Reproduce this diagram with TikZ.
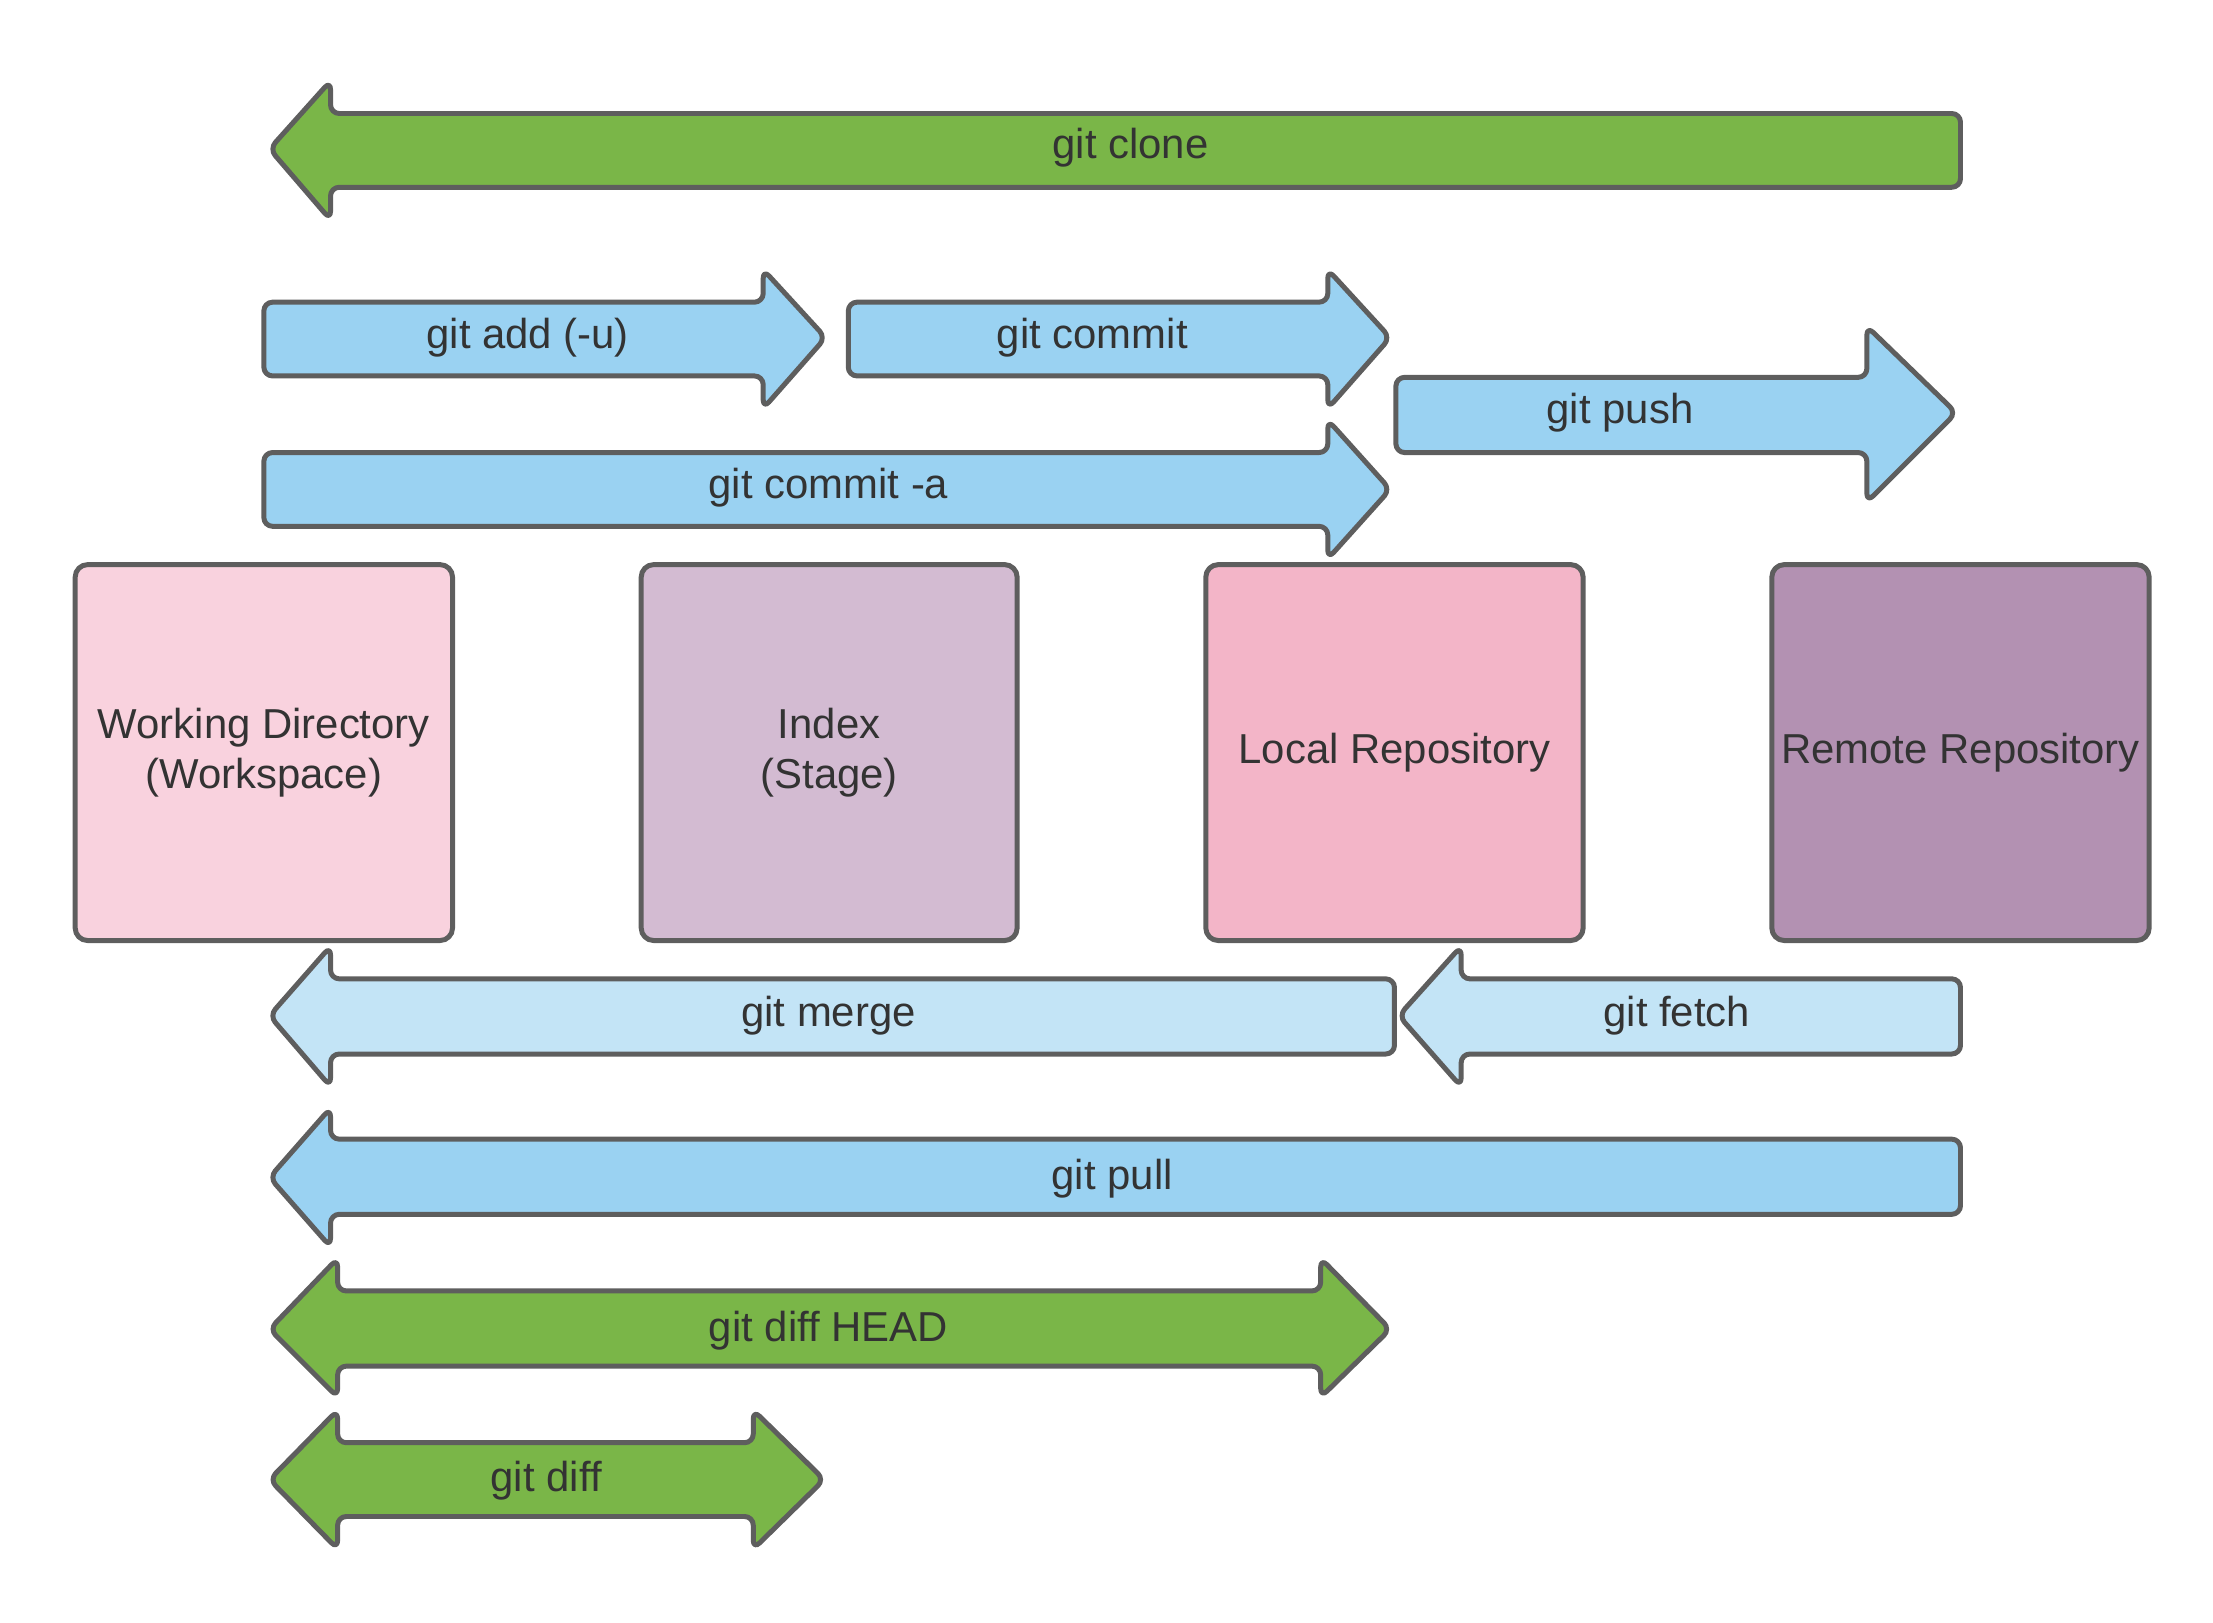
\documentclass[tikz,border=0pt]{standalone}
\usepackage{fontspec}
\setmainfont{Liberation Sans}
\definecolor{gitgreen}{HTML}{7AB648}
\definecolor{gitblue}{HTML}{9AD2F2}
\definecolor{gitlblue}{HTML}{C3E4F6}
\definecolor{wdpink}{HTML}{F9D2DE}
\definecolor{idxlilac}{HTML}{D3BBD2}
\definecolor{locpink}{HTML}{F3B5C8}
\definecolor{rempurple}{HTML}{B391B2}
\definecolor{edgegray}{HTML}{5E5E5E}
\definecolor{txtgray}{HTML}{333333}
\tikzset{
  shapeline/.style={draw=edgegray, line width=2pt, rounded corners=3.5pt, line join=round},
  greenarrow/.style={shapeline, fill=gitgreen},
  bluearrow/.style={shapeline, fill=gitblue},
  lbluearrow/.style={shapeline, fill=gitlblue},
  lbl/.style={text=txtgray, font=\fontsize{16.8}{20}\selectfont, align=center, inner sep=0pt},
  areabox/.style={shapeline, rounded corners=5pt}
}
\begin{document}
\begin{tikzpicture}[x=0.02cm,y=-0.02cm]
\useasboundingbox (0,0) rectangle (1560,1143.4);
% git clone
\draw[greenarrow] (190,105) -- (233,57) -- (233,80) -- (1382,80) -- (1382,132) -- (233,132) -- (233,155) -- cycle;
\node[lbl] (clone) at (797,104) {git clone};
% git add
\draw[bluearrow] (186,213) -- (538,213) -- (538,190) -- (582,238) -- (538,288) -- (538,265) -- (186,265) -- cycle;
\node[lbl] (add) at (372,238) {git add (-u)};
% git commit
\draw[bluearrow] (598,213) -- (936,213) -- (936,190) -- (980,238) -- (936,288) -- (936,265) -- (598,265) -- cycle;
\node[lbl] (commit) at (770,238) {git commit};
% git push
\draw[bluearrow] (984,266) -- (1316,266) -- (1316,230) -- (1379,291) -- (1316,354) -- (1316,319) -- (984,319) -- cycle;
\node[lbl] (push) at (1142,291) {git push};
% git commit -a
\draw[bluearrow] (186,319) -- (936,319) -- (936,296) -- (980,345) -- (936,394) -- (936,371) -- (186,371) -- cycle;
\node[lbl] (commita) at (584,344) {git commit -a};
% areas
\draw[areabox, fill=wdpink] (53,398) rectangle (319,663);
\node[lbl] (wd) at (186,530.5) {Working Directory\\(Workspace)};
\draw[areabox, fill=idxlilac] (452,398) rectangle (717,663);
\node[lbl] (idx) at (584.5,530.5) {Index\\(Stage)};
\draw[areabox, fill=locpink] (850,398) rectangle (1116,663);
\node[lbl] (loc) at (983,530.5) {Local Repository};
\draw[areabox, fill=rempurple] (1249,398) rectangle (1515,663);
\node[lbl] (rem) at (1382,530.5) {Remote Repository};
% git merge
\draw[lbluearrow] (190,716) -- (233,667) -- (233,690) -- (983,690) -- (983,743) -- (233,743) -- (233,766) -- cycle;
\node[lbl] (merge) at (584,716) {git merge};
% git fetch
\draw[lbluearrow] (986,716) -- (1030,667) -- (1030,690) -- (1382,690) -- (1382,743) -- (1030,743) -- (1030,766) -- cycle;
\node[lbl] (fetch) at (1182,716) {git fetch};
% git pull
\draw[bluearrow] (190,830) -- (233,781) -- (233,803) -- (1382,803) -- (1382,856) -- (233,856) -- (233,879) -- cycle;
\node[lbl] (pull) at (784,831) {git pull};
% git diff HEAD
\draw[greenarrow] (190,937) -- (238,887) -- (238,910) -- (931,910) -- (931,887) -- (980,937) -- (931,985) -- (931,963) -- (238,963) -- (238,985) -- cycle;
\node[lbl] (diffhead) at (584,938) {git diff HEAD};
% git diff
\draw[greenarrow] (190,1043) -- (238,994) -- (238,1017) -- (531,1017) -- (531,994) -- (581,1043) -- (531,1092) -- (531,1069) -- (238,1069) -- (238,1092) -- cycle;
\node[lbl] (diff) at (385,1044) {git diff};
\end{tikzpicture}
\end{document}
